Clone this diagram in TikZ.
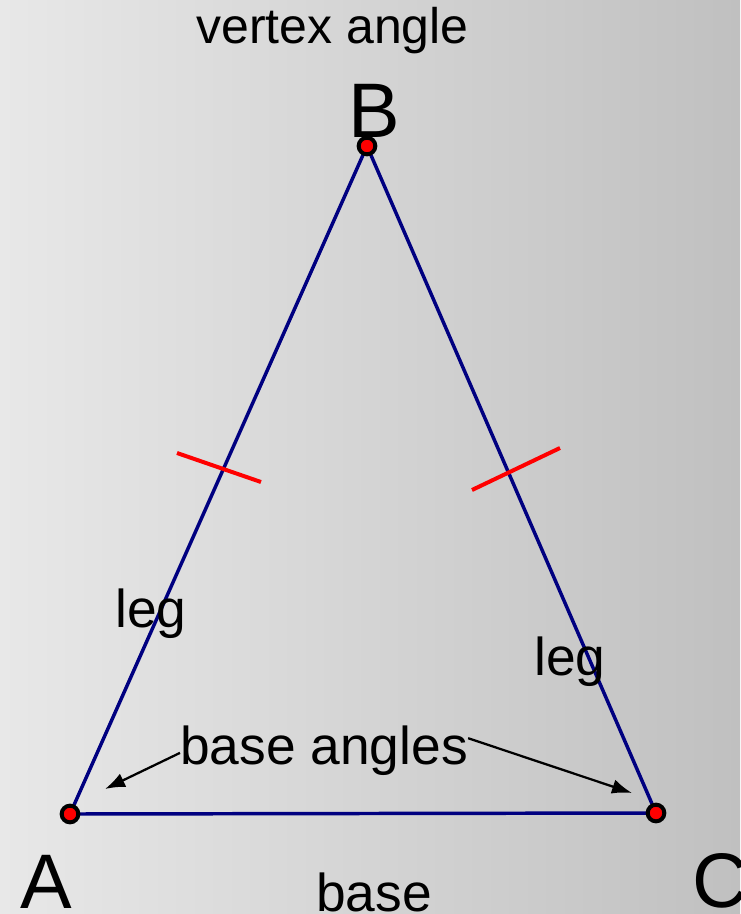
\documentclass[tikz,border=0pt]{standalone}
\usepackage{fontspec}
\setmainfont{Liberation Sans}
\usetikzlibrary{arrows.meta,positioning}
\definecolor{bgleft}{HTML}{E8E8E8}
\definecolor{bgright}{HTML}{C0C0C0}
\definecolor{legblue}{HTML}{000080}
\tikzset{
  legline/.style={draw=legblue, line width=2.6pt, line join=round},
  marktick/.style={draw=red, line width=3pt},
  vdot/.style={circle, draw=black, fill=red, line width=3pt, minimum size=12.5pt, inner sep=0pt},
  lbl/.style={anchor=base west, inner sep=0pt, font=\fontsize{40}{40}\selectfont},
  vname/.style={anchor=base west, inner sep=0pt, font=\fontsize{58}{58}\selectfont},
  pointer/.style={-{Latex[length=15pt, width=11pt]}, line width=1.7pt}
}
\begin{document}
\begin{tikzpicture}[x=0.75pt, y=-0.75pt]
  \shade[left color=bgleft, right color=bgright] (0,0) rectangle (740,914);
  \useasboundingbox (0,0) rectangle (740,914);
  % vertices
  \coordinate (A) at (70,814);
  \coordinate (B) at (367,146);
  \coordinate (C) at (656,813);
  \draw[legline] (A) -- (B) -- (C) -- cycle;
  % congruence marks
  \draw[marktick] (177,453) -- (261,482);
  \draw[marktick] (472,490) -- (560,448);
  \node[vdot] (dA) at (A) {};
  \node[vdot] (dB) at (B) {};
  \node[vdot] (dC) at (C) {};
  % labels
  \node[vname] (nB) at (348,137) {B};
  \node[vname] (nA) at (20,908) {A};
  \node[vname] (nC) at (692,907) {C};
  \node[lbl, font=\fontsize{37.5}{37.5}\selectfont] (vert) at (196,43) {vertex angle};
  \node[lbl] (legL) at (115,627) {leg};
  \node[lbl] (legR) at (534,675) {leg};
  \node[lbl] (base) at (316,911) {base};
  \node[lbl] (angles) at (180,764) {base angles};
  \coordinate (tipA) at (105,789);
  \coordinate (tipC) at (632,793);
  \draw[pointer] ([yshift=-2pt]angles.west) -- (tipA);
  \draw[pointer] ([yshift=9pt]angles.east) -- (tipC);
\end{tikzpicture}
\end{document}
